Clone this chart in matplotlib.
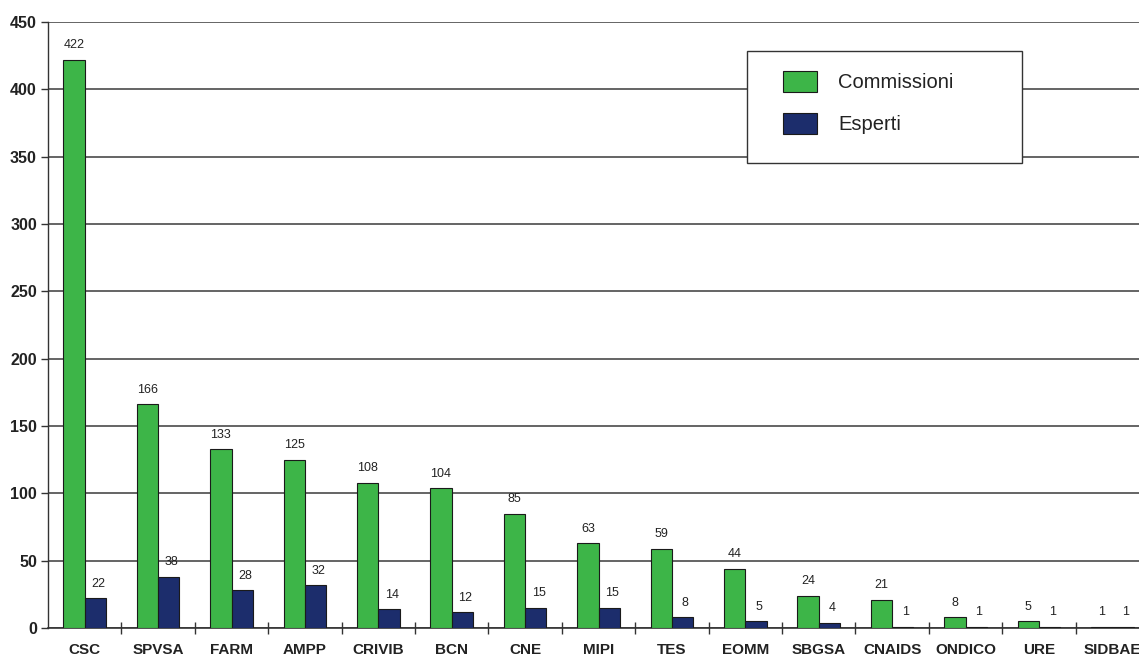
import matplotlib
matplotlib.use("Agg")
import matplotlib.pyplot as plt
from matplotlib.patches import Rectangle
import numpy as np

categories = ["CSC", "SPVSA", "FARM", "AMPP", "CRIVIB", "BCN", "CNE", "MIPI",
              "TES", "EOMM", "SBGSA", "CNAIDS", "ONDICO", "URE", "SIDBAE"]
commissioni = [422, 166, 133, 125, 108, 104, 85, 63, 59, 44, 24, 21, 8, 5, 1]
esperti = [22, 38, 28, 32, 14, 12, 15, 15, 8, 5, 4, 1, 1, 1, 1]
yticks = [0, 50, 100, 150, 200, 250, 300, 350, 400, 450]

plt.rcParams['font.family'] = ['Liberation Sans', 'DejaVu Sans']

W, H = 1139, 659
fig = plt.figure(figsize=(W / 100, H / 100), dpi=100)
left = 48 / W
right_px = 48 + 15 * 73.4
bottom = (H - 628) / H
top = (H - 22) / H
ax = fig.add_axes([left, bottom, (right_px - 48) / W, top - bottom])

green = "#3db548"
blue = "#1c2d6c"
x = np.arange(len(categories))
bw = 0.29
b1 = ax.bar(x - bw / 2, commissioni, bw, color=green, edgecolor="#1a1a1a",
            linewidth=0.8, label="Commissioni", zorder=3)
b2 = ax.bar(x + bw / 2, esperti, bw, color=blue, edgecolor="#1a1a1a",
            linewidth=0.8, label="Esperti", zorder=3)

for xi, v in zip(x, commissioni):
    ax.annotate(str(v), (xi - bw / 2, v), xytext=(0, 6), textcoords="offset points",
                ha="center", va="bottom", fontsize=9, color="#222222", zorder=4)
for xi, v in zip(x, esperti):
    ax.annotate(str(v), (xi + bw / 2, v), xytext=(2, 6), textcoords="offset points",
                ha="center", va="bottom", fontsize=9, color="#222222", zorder=4)

ax.set_xlim(-0.5, len(categories) - 0.5)
ax.set_ylim(0, 450)
ax.set_yticks(yticks)
ax.set_yticklabels([str(t) for t in yticks], fontsize=11.5, fontweight="bold", color="#222222")
ax.yaxis.grid(True, color="#3a3a3a", linewidth=1.1, zorder=1)
ax.set_axisbelow(True)

ax.set_xticks(x)
ax.set_xticklabels(categories, fontsize=11, fontweight="bold", color="#222222")
ax.tick_params(axis="x", which="major", length=0, pad=11)
ax.set_xticks(np.arange(0.5, len(categories) - 0.5, 1), minor=True)
ax.tick_params(axis="x", which="minor", length=8, direction="inout", width=1, color="#333333")
ax.tick_params(axis="y", length=5, width=1, color="#333333", pad=3)

for s in ["top", "right"]:
    ax.spines[s].set_visible(False)
ax.spines["left"].set_color("#333333")
ax.spines["bottom"].set_color("#333333")
ax.spines["left"].set_linewidth(1.0)
ax.spines["bottom"].set_linewidth(1.2)

# legend frame
fig.patches.append(Rectangle((747 / W, 1 - 163 / H), (1022 - 747) / W, (163 - 51) / H,
                             transform=fig.transFigure, facecolor="white",
                             edgecolor="#333333", linewidth=1.0, zorder=5))
leg = fig.legend(handles=[b1, b2], loc="upper left",
                 bbox_to_anchor=(783 / W, 1 - 71 / H), bbox_transform=fig.transFigure,
                 fontsize=14.5, frameon=False, borderpad=0, labelspacing=1.0,
                 handlelength=1.7, handleheight=1.25, handletextpad=1.05, borderaxespad=0)
leg.set_zorder(6)
for t in leg.get_texts():
    t.set_color("#222222")

fig.savefig("out.png", dpi=100)
